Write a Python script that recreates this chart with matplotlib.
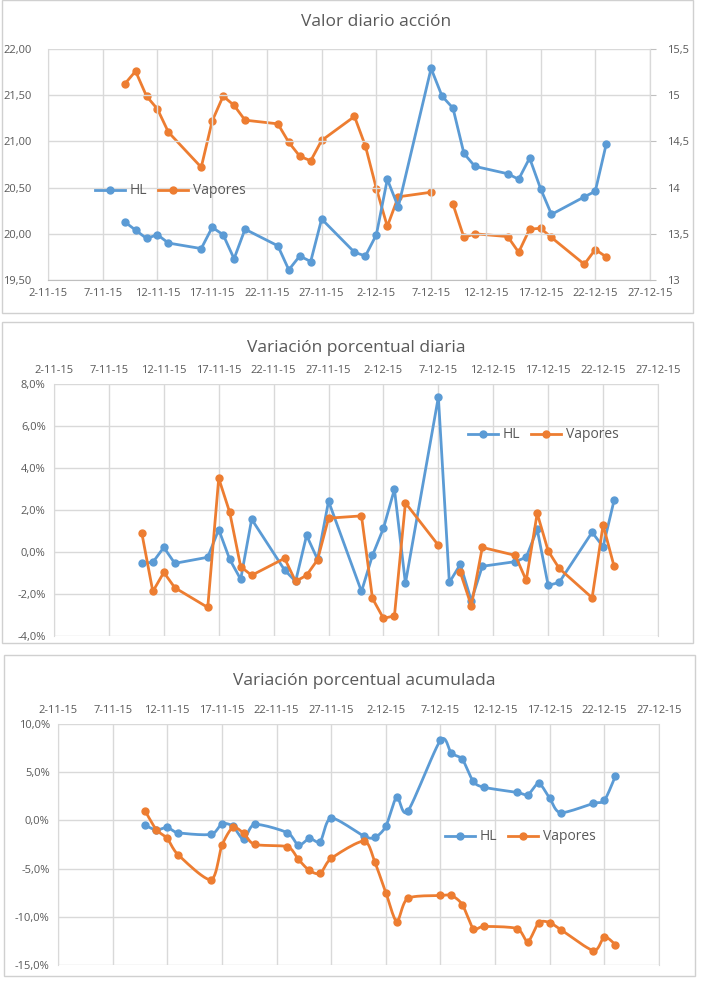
import datetime as dt
import numpy as np
import matplotlib
matplotlib.use("Agg")
import matplotlib.pyplot as plt
import matplotlib.dates as mdates
from matplotlib.ticker import FuncFormatter, MultipleLocator
from matplotlib.patches import Rectangle
from matplotlib.lines import Line2D

BLUE = "#5B9BD5"
ORANGE = "#ED7D31"
TXT = "#595959"
GRID = "#D9D9D9"
plt.rcParams["font.family"] = ["Open Sans", "DejaVu Sans"]

# trading days (day offsets in Nov/Dec 2015)
nov_days = [9, 10, 11, 12, 13, 16, 17, 18, 19, 20, 23, 24, 25, 26, 27, 30]
dec_days = [1, 2, 3, 4, 7, 8, 9, 10, 11, 14, 15, 16, 17, 18, 21, 22, 23]
dates = [dt.date(2015, 11, d) for d in nov_days] + [dt.date(2015, 12, d) for d in dec_days]

# daily price
hl_price = [20.13, 20.04, 19.95, 19.99, 19.90, 19.84, 20.07, 19.99, 19.73, 20.05, 19.87, 19.61,
            19.76, 19.70, 20.16, 19.80, 19.76, 19.99, 20.59, 20.29, 21.79, 21.49, 21.36, 20.87,
            20.73, 20.65, 20.59, 20.82, 20.49, 20.21, 20.40, 20.46, 20.97]
vap_price = [15.12, 15.26, 14.99, 14.85, 14.60, 14.22, 14.72, 14.99, 14.89, 14.73, 14.69, 14.49,
             14.34, 14.29, 14.51, 14.77, 14.45, 13.99, 13.58, 13.90, 13.95, np.nan, 13.82, 13.46,
             13.50, 13.47, 13.30, 13.55, 13.56, 13.46, 13.17, 13.33, 13.25]

# daily % change (from Nov 10)
hl_daily = [-0.54, -0.49, 0.22, -0.54, -0.25, 1.07, -0.35, -1.30, 1.56, -0.86, -1.40, 0.79,
            -0.35, 2.42, -1.88, -0.16, 1.13, 2.99, -1.49, 7.38, -1.45, -0.59, -2.32, -0.68,
            -0.46, -0.25, 1.08, -1.59, -1.45, 0.94, 0.25, 2.46]
vap_daily = [0.89, -1.88, -0.97, -1.70, -2.64, 3.51, 1.89, -0.70, -1.11, -0.30, -1.40, -1.11,
             -0.37, 1.61, 1.72, -2.21, -3.16, -3.04, 2.34, 0.32, np.nan, -0.97, -2.56, 0.22,
             -0.16, -1.35, 1.84, 0.05, -0.78, -2.18, 1.29, -0.68]

# cumulative % change (from Nov 10)
hl_cum = [-0.52, -1.0, -0.73, -1.28, -1.45, -0.35, -0.6, -1.97, -0.42, -1.28, -2.6, -1.87,
          -2.2, 0.24, -1.63, -1.77, -0.62, 2.42, 0.93, 8.31, 6.96, 6.34, 4.05, 3.43,
          2.91, 2.67, 3.84, 2.29, 0.80, 1.77, 2.08, 4.57]
vap_cum = [0.93, -0.97, -1.87, -3.57, -6.16, -2.6, -0.73, -1.35, -2.49, -2.74, -4.05, -5.19,
           -5.5, -3.95, -2.15, -4.36, -7.48, -10.49, -8.1, -7.79, -7.79, -8.73, -11.22, -11.0,
           -11.22, -12.57, -10.6, -10.6, -11.32, -13.5, -12.08, -12.88]

W, H = 710, 982
fig = plt.figure(figsize=(W / 100, H / 100), dpi=100)


def px(l, t, r, b):
    return [l / W, 1 - b / H, (r - l) / W, (b - t) / H]


def box(l, t, r, b):
    fig.patches.append(Rectangle((l / W, 1 - b / H), (r - l) / W, (b - t) / H,
                                 transform=fig.transFigure, fill=False, ec="#D0D0D0", lw=1))


def smooth(x, y, n=12):
    x = np.asarray(x, float); y = np.asarray(y, float)
    xs, ys = [], []
    for i in range(len(x) - 1):
        p0 = i - 1 if i > 0 else 0
        p3 = i + 2 if i + 2 < len(x) else len(x) - 1
        t = np.linspace(0, 1, n, endpoint=False)
        for arr, out in ((x, xs), (y, ys)):
            a0, a1, a2, a3 = arr[p0], arr[i], arr[i + 1], arr[p3]
            m1 = (a2 - a0) / 2 * 0.8
            m2 = (a3 - a1) / 2 * 0.8
            h00 = 2 * t**3 - 3 * t**2 + 1; h10 = t**3 - 2 * t**2 + t
            h01 = -2 * t**3 + 3 * t**2; h11 = t**3 - t**2
            out.extend(h00 * a1 + h10 * m1 + h01 * a2 + h11 * m2)
    xs.append(x[-1]); ys.append(y[-1])
    return np.array(xs), np.array(ys)


xlim = (mdates.date2num(dt.date(2015, 11, 2)), mdates.date2num(dt.date(2015, 12, 27)))
xticks = [xlim[0] + 5 * i for i in range(12)]
datefmt = FuncFormatter(lambda v, p: "{d.day}-{d.month}-{y}".format(d=mdates.num2date(v), y=mdates.num2date(v).year % 100))


def style(ax, top=False):
    ax.set_xlim(*xlim)
    ax.set_xticks(xticks)
    ax.xaxis.set_major_formatter(datefmt)
    ax.grid(True, color=GRID, lw=1)
    ax.set_axisbelow(True)
    for s in ax.spines.values():
        s.set_visible(False)
    for side in ("left", "right"):
        ax.spines[side].set_visible(True)
        ax.spines[side].set_color(GRID)
    ax.tick_params(colors=TXT, labelsize=8, length=0, pad=6)
    if top:
        ax.xaxis.tick_top()


def legend(ax, loc):
    h = [Line2D([], [], color=BLUE, marker="o", ms=5, lw=2, label="HL"),
         Line2D([], [], color=ORANGE, marker="o", ms=5, lw=2, label="Vapores")]
    ax.legend(handles=h, loc="center", bbox_to_anchor=loc, bbox_transform=fig.transFigure,
              ncol=2, frameon=False, fontsize=10, labelcolor=TXT, handlelength=2.2,
              columnspacing=0.8, handletextpad=0.3)


xd = mdates.date2num(dates)
kw = dict(marker="o", ms=5, lw=2)

# panel 1
box(2, 0, 693, 313)
ax1 = fig.add_axes(px(48, 49, 650, 280))
style(ax1)
ax1.set_ylim(19.5, 22)
ax1.yaxis.set_major_locator(MultipleLocator(0.5))
ax1.yaxis.set_major_formatter(FuncFormatter(lambda v, p: f"{v:.2f}".replace(".", ",")))
ax1.spines["bottom"].set_visible(True)
ax1.spines["bottom"].set_color("#BFBFBF")
ax1.tick_params(axis="y", pad=12)
ax1.plot(xd, hl_price, color=BLUE, **kw, zorder=3)
ax1b = ax1.twinx()
ax1b.set_ylim(13, 15.5)
ax1b.yaxis.set_major_locator(MultipleLocator(0.5))
ax1b.yaxis.set_major_formatter(FuncFormatter(lambda v, p: f"{v:g}".replace(".", ",")))
for s in ax1b.spines.values():
    s.set_visible(False)
ax1b.spines["right"].set_visible(True)
ax1b.spines["right"].set_color("#BFBFBF")
ax1b.tick_params(colors=TXT, labelsize=8, direction="out", length=4, color="#BFBFBF", pad=8)
ax1b.plot(xd, vap_price, color=ORANGE, **kw)
ax1.set_zorder(ax1b.get_zorder() + 1)
ax1.patch.set_visible(False)
fig.text(376 / W, 1 - 22 / H, "Valor diario acción", ha="center", va="center", fontsize=12.5, color=TXT)
legend(ax1, (170 / W, 1 - 191 / H))

# panel 2
box(2, 322, 693, 643)
ax2 = fig.add_axes(px(54, 384, 658, 636))
style(ax2, top=True)
ax2.set_ylim(-4, 8)
ax2.yaxis.set_major_locator(MultipleLocator(2))
ax2.yaxis.set_major_formatter(FuncFormatter(lambda v, p: f"{v:.1f}%".replace(".", ",")))
ax2.plot(xd[1:], hl_daily, color=BLUE, **kw)
ax2.plot(xd[1:], vap_daily, color=ORANGE, **kw)
fig.text(356 / W, 1 - 348 / H, "Variación porcentual diaria", ha="center", va="center", fontsize=12.5, color=TXT)
legend(ax2, (543 / W, 1 - 435 / H))

# panel 3
box(4, 655, 695, 976)
ax3 = fig.add_axes(px(58, 724, 659, 965))
style(ax3, top=True)
ax3.set_ylim(-15, 10)
ax3.yaxis.set_major_locator(MultipleLocator(5))
ax3.yaxis.set_major_formatter(FuncFormatter(lambda v, p: f"{v:.1f}%".replace(".", ",")))
for vals, c in ((hl_cum, BLUE), (vap_cum, ORANGE)):
    sx, sy = smooth(xd[1:], vals)
    ax3.plot(sx, sy, color=c, lw=2)
    ax3.plot(xd[1:], vals, color=c, marker="o", ms=5, lw=0)
fig.text(364 / W, 1 - 681 / H, "Variación porcentual acumulada", ha="center", va="center", fontsize=12.5, color=TXT)
legend(ax3, (520 / W, 1 - 837 / H))

fig.savefig("out.png", dpi=100)
